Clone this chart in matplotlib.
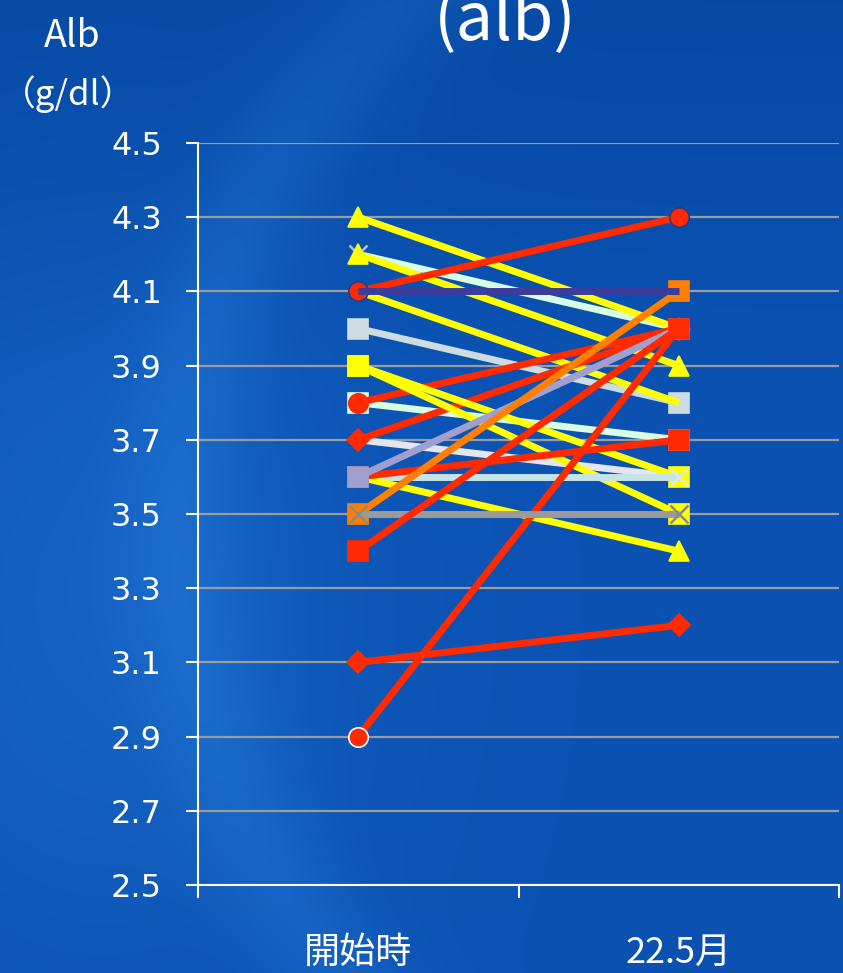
import numpy as np
import matplotlib as mpl
mpl.use("Agg")
import matplotlib.pyplot as plt

# 測定時期
periods = ['開始時', '22.5月']

# 各症例の Alb 値 (g/dl)：開始時 → 22.5月
alb_start = [4.2, 4.2, 4.3, 4.0, 4.1, 3.8, 4.1, 3.8, 3.7, 3.7, 3.9,
             3.9, 3.6, 3.6, 3.6, 3.6, 2.9, 3.5, 3.5, 4.1, 3.4, 3.1]
alb_end = [4.0, 3.9, 4.0, 3.8, 3.8, 3.7, 4.3, 4.0, 3.6, 4.0, 3.6,
           3.5, 3.6, 3.4, 3.7, 4.0, 4.0, 4.1, 3.5, 4.1, 4.0, 3.2]

y_ticks = [2.5, 2.7, 2.9, 3.1, 3.3, 3.5, 3.7, 3.9, 4.1, 4.3, 4.5]

# 線の色・マーカー（症例の順）
RED = '#FF2A00'
YEL = '#FFFF00'
line_colors = ['#D8FFE4', YEL, YEL, '#CCDCE0', YEL, '#D8FFE4', RED, RED,
               '#E4E6EE', RED, YEL, YEL, '#C4E4E8', YEL, RED, '#A0A0D0',
               RED, '#FF8000', '#9A9A9A', '#3C3C9C', RED, RED]
line_markers = ['x', '^', '^', 's', 'None', 's', 'o', 'o', 'None', 'D', 's',
                's', 'x', '^', 's', 's', 'o', 's', 'x', 'None', 's', 'D']
edge_colors = {6: '#2A3A8A', 16: 'white', 0: '#B8C0D0', 12: '#D8ECF0',
               18: '#8A8A8A'}
marker_size = {'s': 15, 'o': 14, '^': 15, 'D': 11, 'x': 13, 'None': 0}

BG = '#0A52B0'


def make_background(h, w):
    yy, xx = np.mgrid[0:h, 0:w]
    base = np.array([0.04, 0.32, 0.70])
    img = np.ones((h, w, 3)) * base
    # 上部を少し暗く
    dark = np.clip(1 - yy / (h * 0.4), 0, 1)[..., None] * 0.05
    img = img - dark * np.array([0.3, 0.6, 1.0])
    # 左側の淡い光
    glow = np.exp(-(((xx - 100) / 260.) ** 2 + ((yy - 600) / 380.) ** 2))
    img = img + glow[..., None] * np.array([0.04, 0.06, 0.06])
    # 弧状のハイライト
    r = np.sqrt((xx - 900.) ** 2 + (yy - 520.) ** 2)
    ring = np.exp(-((r - 720.) / 60.) ** 2)
    img = img + ring[..., None] * np.array([0.03, 0.05, 0.05])
    return np.clip(img, 0, 1)


def main():
    dpi = 100
    fig = plt.figure(figsize=(8.43, 9.73), dpi=dpi)
    fig.patch.set_facecolor(BG)

    bg_ax = fig.add_axes([0, 0, 1, 1], zorder=-10)
    bg_ax.imshow(make_background(973, 843), aspect='auto')
    bg_ax.axis('off')

    ax = fig.add_axes([198 / 843., 1 - 885 / 973., 641 / 843., 742 / 973.])
    ax.set_facecolor('none')

    x = [0.5, 1.5]
    for i in range(len(alb_start)):
        c = line_colors[i]
        mk = line_markers[i]
        mec = edge_colors.get(i, c)
        mew = 1.8 if mk == 'x' else 1.2
        ax.plot(x, [alb_start[i], alb_end[i]], color=c, lw=5,
                marker=mk, ms=marker_size[mk], mfc=c, mec=mec, mew=mew,
                solid_capstyle='butt', zorder=3 + i * 0.01, clip_on=False)

    ax.set_xlim(0, 2)
    ax.set_ylim(2.5, 4.5)
    ax.set_yticks(y_ticks)
    ax.set_yticklabels(['%.1f' % v for v in y_ticks], family='DejaVu Sans')
    ax.yaxis.grid(True, color='#9C9C9C', lw=1.6)
    ax.set_axisbelow(True)

    ax.set_xticks([0, 1, 2])
    ax.set_xticklabels([])
    ax.set_xticks(x, minor=True)
    ax.set_xticklabels(periods, minor=True, fontsize=26,
                       family=['Noto Sans CJK JP', 'DejaVu Sans'], color='white')
    ax.tick_params(axis='x', which='minor', length=0, pad=36)
    ax.tick_params(axis='x', which='major', length=9, width=1.5,
                   color='white', direction='out')
    ax.tick_params(axis='y', length=9, width=1.5, color='white',
                   labelcolor='white', labelsize=23, pad=17)

    for side in ['top', 'right']:
        ax.spines[side].set_visible(False)
    for side in ['left', 'bottom']:
        ax.spines[side].set_color('white')
        ax.spines[side].set_linewidth(1.5)

    jp = ['Noto Sans CJK JP', 'DejaVu Sans']
    fig.text(72 / 843., 1 - 47 / 973., 'Alb', ha='center', va='baseline',
             fontsize=27, color='white', family=jp)
    fig.text(68 / 843., 1 - 105 / 973., '（g/dl）', ha='center', va='baseline',
             fontsize=25, color='white', family=jp)
    fig.text(505 / 843., 1 - 40 / 973., '(alb)', ha='center', va='baseline',
             fontsize=48, color='white', family=jp)

    fig.savefig('out.png', dpi=dpi, facecolor=fig.get_facecolor())
    plt.close(fig)


if __name__ == '__main__':
    main()
